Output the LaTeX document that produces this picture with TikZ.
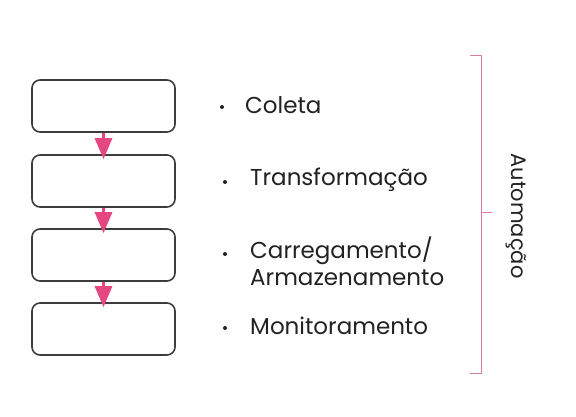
\documentclass[tikz,border=0pt]{standalone}
\usepackage{fontspec}
\setmainfont{Poppins}
\usetikzlibrary{arrows.meta}
\definecolor{boxline}{HTML}{3C3C3C}
\definecolor{pinkarrow}{HTML}{E5487F}
\definecolor{pinkbrace}{HTML}{DA7C9C}
\definecolor{txt}{HTML}{222222}
\tikzset{
  stepbox/.style={draw=boxline, line width=1.6pt, rounded corners=8pt, minimum width=143pt, minimum height=52pt, inner sep=0pt},
  flowarrow/.style={draw=pinkarrow, line width=3pt, -{Triangle[width=17pt,length=21pt]}, shorten >=-5pt},
  item/.style={anchor=west, text=txt, font=\fontsize{23}{27}\selectfont, inner sep=0pt, align=left},
  bulletdot/.style={circle, fill=txt, inner sep=0pt, minimum size=4pt},
}
\begin{document}
\begin{tikzpicture}[x=1pt,y=-1pt]
\useasboundingbox[fill=white] (0,0) rectangle (576,416);
\node[stepbox] (b1) at (103.5,106) {};
\node[stepbox] (b2) at (103.5,181) {};
\node[stepbox] (b3) at (103.5,255) {};
\node[stepbox] (b4) at (103.5,329) {};
\draw[flowarrow] (b1.south) -- (b2.north);
\draw[flowarrow] (b2.south) -- (b3.north);
\draw[flowarrow] (b3.south) -- (b4.north);
\node[bulletdot] (d1) at (222,107) {};
\node[bulletdot] (d2) at (225,182) {};
\node[bulletdot] (d3) at (225,254) {};
\node[bulletdot] (d4) at (225,328) {};
\node[item] (t1) at (245,105) {Coleta};
\node[item] (t2) at (250,180) {Transformação};
\node[item] (t3) at (250,261) {Carregamento/\\Armazenamento};
\node[item] (t4) at (250,326) {Monitoramento};
\coordinate (bt) at (470,55);
\coordinate (bb) at (470,373);
\coordinate (bm) at (492,212);
\draw[pinkbrace, line width=1pt] (bt) -- (481,55) -- (481,212) -- (bm);
\draw[pinkbrace, line width=1pt] (481,212) -- (481,373) -- (bb);
\node[text=txt, font=\fontsize{21}{24}\selectfont, rotate=-90, inner sep=0pt] (auto) at (516,216) {Automação};
\end{tikzpicture}
\end{document}
